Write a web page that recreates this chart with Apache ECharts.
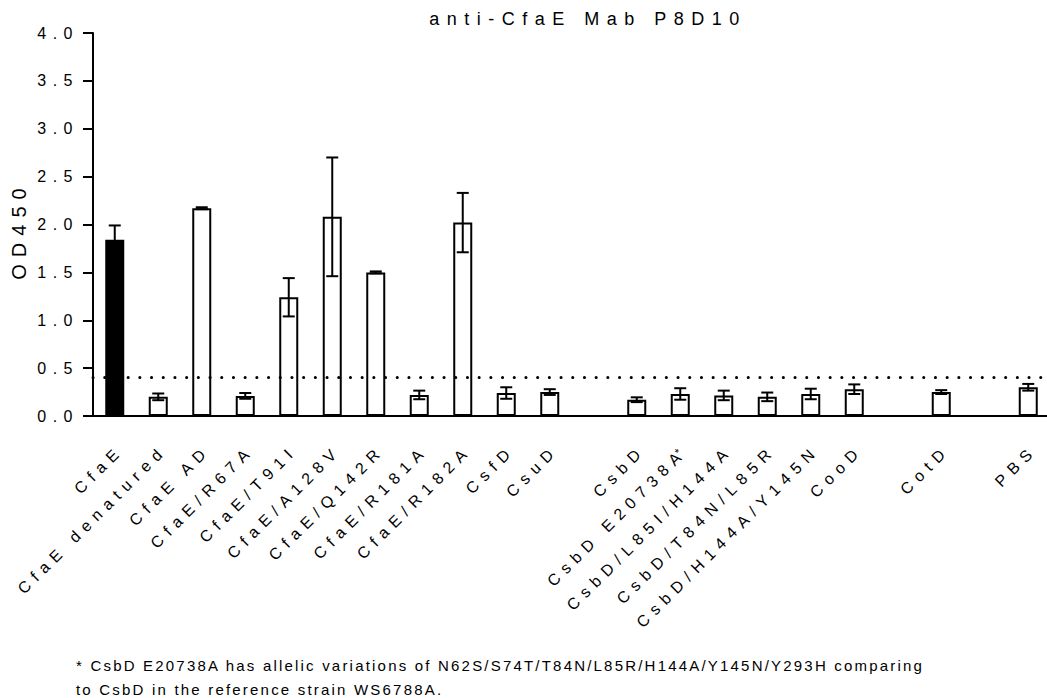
<!DOCTYPE html>
<html><head><meta charset="utf-8">
<script src="https://cdn.jsdelivr.net/npm/echarts@6/dist/echarts.min.js"></script>
<style>
html,body{margin:0;padding:0;background:#fff;}
#c{width:1047px;height:698px;}
#c text[style*="xtick"]{letter-spacing:6.5px;}
#c text[style*="xtitle"]{letter-spacing:7.5px;}
#c text[style*="xname"]{letter-spacing:7px;}
#c text[style*="xfoot"]{letter-spacing:2.2px;}
</style></head><body><div id="c"></div>
<script>
// ---- data ----
const titleText = 'anti-CfaE Mab P8D10';
const yAxisName = 'OD450';
const categories = ['CfaE','CfaE denatured','CfaE AD','CfaE/R67A','CfaE/T91I','CfaE/A128V','CfaE/Q142R','CfaE/R181A','CfaE/R182A','CsfD','CsuD','','CsbD','CsbD E20738A*','CsbD/L85I/H144A','CsbD/T84N/L85R','CsbD/H144A/Y145N','CooD','','CotD','','PBS'];
const means = [1.84,0.20,2.17,0.21,1.24,2.08,1.50,0.22,2.02,0.24,0.25,null,0.17,0.23,0.215,0.20,0.23,0.28,null,0.25,null,0.30];
const sd    = [0.15,0.035,0.01,0.03,0.20,0.62,0.01,0.045,0.31,0.06,0.03,null,0.025,0.06,0.05,0.045,0.055,0.05,null,0.02,null,0.035];
const cutoff = 0.4;
const yMin = 0, yMax = 4, yStep = 0.5;
const footnote1 = '* CsbD E20738A has allelic variations of N62S/S74T/T84N/L85R/H144A/Y145N/Y293H comparing';
const footnote2 = 'to CsbD in the reference strain WS6788A.';

// ---- chart ----
const F = "'Liberation Sans', Arial, ";
const chart = echarts.init(document.getElementById('c'), null, {renderer:'svg'});
const barData = means.map((v,i)=> v==null ? null : {value:v, itemStyle:{color: i===0 ? '#000' : '#fff'}});
const errData = [];
means.forEach((v,i)=>{ if(v!=null) errData.push([i, v - sd[i], v + sd[i]]); });

chart.setOption({
  animation:false,
  backgroundColor:'#fff',
  grid:{left:93, right:-3, top:33, bottom:282, containLabel:false, outerBoundsMode:'none'},
  xAxis:{
    type:'category', data:categories, boundaryGap:true,
    axisLine:{lineStyle:{color:'#000', width:2}},
    axisTick:{show:false},
    splitLine:{show:false},
    axisLabel:{interval:0, rotate:45, margin:26, align:'right', verticalAlign:'top',
      color:'#000', fontSize:16, fontFamily:F+'xtick',
      formatter:v=> v.endsWith('*') ? '{t|' + v.slice(0,-1) + '}{s|*}' : v,
      rich:{
        t:{fontSize:16, fontFamily:F+'xtick', color:'#000'},
        s:{fontSize:11, fontFamily:F+'xtick', color:'#000', verticalAlign:'top'}
      }}
  },
  yAxis:{
    type:'value', min:yMin, max:yMax, interval:yStep,
    name:yAxisName, nameLocation:'middle', nameRotate:90, nameGap:64,
    nameTextStyle:{color:'#000', fontSize:20, fontFamily:F+'xname', padding:[0,12,0,0]},
    axisLine:{show:true, lineStyle:{color:'#000', width:2}},
    axisTick:{show:true, length:10, lineStyle:{color:'#000', width:2}},
    splitLine:{show:false},
    axisLabel:{margin:14, padding:[6,0,0,0], color:'#000', fontSize:16, fontFamily:F+'xtick', formatter:v=>v.toFixed(1)}
  },
  series:[
    {type:'line', data:[], z:1, silent:true,
     markLine:{silent:true, symbol:'none', label:{show:false},
       lineStyle:{color:'#000', width:3, type:[0.1,11.6], cap:'round'},
       data:[{yAxis:cutoff}]}},
    {type:'bar', data:barData, barWidth:19, z:3,
     itemStyle:{borderColor:'#000', borderWidth:2}},
    {type:'custom', z:5, data:errData, silent:true,
     renderItem:(params, api)=>{
       const i = api.value(0);
       const pLo = api.coord([i, api.value(1)]);
       const pHi = api.coord([i, api.value(2)]);
       const h = 6, st = {stroke:'#000', lineWidth:2};
       return {type:'group', children:[
         {type:'line', shape:{x1:pHi[0], y1:pHi[1], x2:pLo[0], y2:pLo[1]}, style:st},
         {type:'line', shape:{x1:pHi[0]-h, y1:pHi[1], x2:pHi[0]+h, y2:pHi[1]}, style:st},
         {type:'line', shape:{x1:pLo[0]-h, y1:pLo[1], x2:pLo[0]+h, y2:pLo[1]}, style:st}
       ]};
     }}
  ],
  graphic:[
    {type:'text', x:588, y:19, silent:true, style:{text:titleText, fontSize:18, fontFamily:F+'xtitle', fill:'#000', align:'center', verticalAlign:'middle'}},
    {type:'text', x:76, y:665, silent:true, style:{text:footnote1, fontSize:15, fontFamily:F+'xfoot', fill:'#000', align:'left', verticalAlign:'middle'}},
    {type:'text', x:76, y:689, silent:true, style:{text:footnote2, fontSize:15, fontFamily:F+'xfoot', fill:'#000', align:'left', verticalAlign:'middle'}}
  ]
});
</script></body></html>
